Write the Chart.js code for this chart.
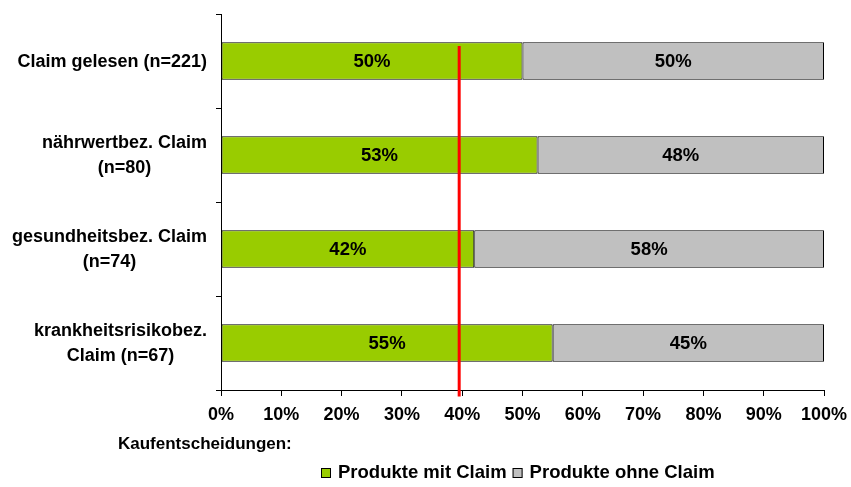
<!DOCTYPE html>
<html>
<head>
<meta charset="utf-8">
<script src="https://cdn.jsdelivr.net/npm/chart.js@4"></script>
<style>
  html, body { margin: 0; padding: 0; background: #fff; }
  #wrap { width: 851px; height: 487px; }
</style>
</head>
<body>
<div id="wrap"><canvas id="claimChart" width="851" height="487"></canvas></div>
<script>
const categories = [
    ["Claim gelesen (n=221)"],
    ["nährwertbez. Claim", "(n=80)"],
    ["gesundheitsbez. Claim", "(n=74)"],
    ["krankheitsrisikobez.", "Claim (n=67)"]
];
const mitClaim = [50, 52.5, 42, 55];
const ohneClaim = [50, 47.5, 58, 45];
const seriesNames = ["Produkte mit Claim", "Produkte ohne Claim"];
const legendTitle = "Kaufentscheidungen:";
const xTicks = [0, 10, 20, 30, 40, 50, 60, 70, 80, 90, 100];
const referenceLine = 39.5;

const FONT = "'Liberation Sans', Arial, sans-serif";

const refLinePlugin = {
    id: "refLine",
    afterDatasetsDraw(chart) {
        const ctx = chart.ctx;
        const x = chart.scales.x.getPixelForValue(referenceLine);
        const y = chart.scales.y;
        ctx.save();
        ctx.strokeStyle = "#ff0000";
        ctx.lineWidth = 3;
        ctx.beginPath();
        ctx.moveTo(x, y.getPixelForValue(-0.16));
        ctx.lineTo(x, y.getPixelForValue(3.57));
        ctx.stroke();
        ctx.restore();
    }
};

const barLabelPlugin = {
    id: "barLabels",
    afterDatasetsDraw(chart) {
        const ctx = chart.ctx;
        ctx.save();
        ctx.font = "bold 18.5px " + FONT;
        ctx.fillStyle = "#000";
        ctx.textAlign = "center";
        ctx.textBaseline = "middle";
        chart.data.datasets.forEach((ds, i) => {
            chart.getDatasetMeta(i).data.forEach((bar, j) => {
                const cx = (bar.x + bar.base) / 2;
                ctx.fillText(Math.round(ds.data[j]) + "%", cx, bar.y + 1);
            });
        });
        ctx.restore();
    }
};

const yLabelPlugin = {
    id: "yLabels",
    afterDraw(chart) {
        const ctx = chart.ctx;
        const y = chart.scales.y;
        const right = 207;
        ctx.save();
        ctx.font = "bold 18px " + FONT;
        ctx.fillStyle = "#000";
        ctx.textAlign = "center";
        ctx.textBaseline = "middle";
        chart.data.labels.forEach((lines, i) => {
            const widths = lines.map(l => ctx.measureText(l).width);
            const blockW = Math.max(...widths);
            const cx = right - blockW / 2;
            const cy = y.getPixelForValue(i) + 1;
            const lh = 25;
            lines.forEach((l, k) => {
                ctx.fillText(l, cx, cy + (k - (lines.length - 1) / 2) * lh);
            });
        });
        ctx.restore();
    }
};

const legendPlugin = {
    id: "customLegend",
    afterDraw(chart) {
        const ctx = chart.ctx;
        ctx.save();
        ctx.fillStyle = "#000";
        ctx.textBaseline = "middle";
        ctx.font = "bold 17px " + FONT;
        ctx.fillText(legendTitle, 118, 444);
        ctx.font = "bold 18.5px " + FONT;
        let x = 321;
        const yc = 473;
        chart.data.datasets.forEach(ds => {
            ctx.fillStyle = ds.backgroundColor;
            ctx.fillRect(x, yc - 5, 10, 10);
            ctx.strokeStyle = "#000";
            ctx.lineWidth = 1;
            ctx.strokeRect(x + 0.5, yc - 4.5, 9, 9);
            ctx.fillStyle = "#000";
            ctx.fillText(ds.label, x + 17, yc);
            x += 17 + ctx.measureText(ds.label).width + 6;
        });
        ctx.restore();
    }
};

new Chart(document.getElementById("claimChart"), {
    type: "bar",
    data: {
        labels: categories,
        datasets: [
            {
                label: seriesNames[0],
                data: mitClaim,
                backgroundColor: "#99cc00",
                borderColor: "#000",
                borderWidth: 1,
                borderSkipped: false,
                barPercentage: 0.4,
                categoryPercentage: 1
            },
            {
                label: seriesNames[1],
                data: ohneClaim,
                backgroundColor: "#c0c0c0",
                borderColor: "#000",
                borderWidth: 1,
                borderSkipped: false,
                barPercentage: 0.4,
                categoryPercentage: 1
            }
        ]
    },
    options: {
        indexAxis: "y",
        responsive: false,
        animation: false,
        layout: { padding: { top: 14, right: 27, bottom: 57, left: 0 } },
        plugins: {
            legend: { display: false },
            tooltip: { enabled: false }
        },
        scales: {
            x: {
                stacked: true,
                min: 0,
                max: 100,
                afterBuildTicks: (scale) => {
                    scale.ticks = xTicks.map(v => ({ value: v }));
                },
                afterFit: (scale) => {
                    scale.height = 40;
                    scale.paddingLeft = 0;
                    scale.paddingRight = 0;
                },
                border: { display: true, color: "#000", width: 1 },
                grid: { drawOnChartArea: false, drawTicks: true, tickLength: 6, color: "#000" },
                ticks: {
                    color: "#000",
                    padding: 8,
                    maxRotation: 0,
                    font: { family: FONT, size: 18, weight: "bold" },
                    callback: (v) => v + "%"
                }
            },
            y: {
                stacked: true,
                afterFit: (scale) => { scale.width = 221; },
                border: { display: true, color: "#000", width: 1 },
                grid: { offset: true, drawOnChartArea: false, drawTicks: true, tickLength: 5, color: "#000" },
                ticks: { display: false }
            }
        }
    },
    plugins: [refLinePlugin, barLabelPlugin, yLabelPlugin, legendPlugin]
});
</script>
</body>
</html>
